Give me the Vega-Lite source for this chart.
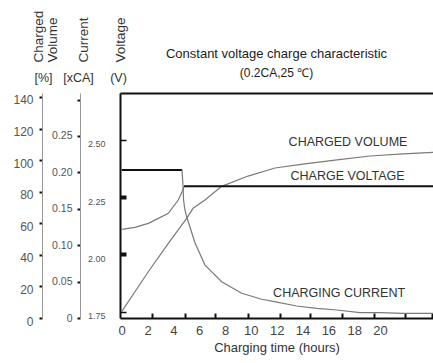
{
  "$schema": "https://vega.github.io/schema/vega-lite/v6.json",
  "width": 313,
  "height": 225,
  "autosize": {"type": "none"},
  "padding": {"left": 120, "top": 93, "right": 0, "bottom": 45},
  "background": "white",
  "config": {"view": {"stroke": null}, "font": "Liberation Sans", "axis": {"grid": false, "labelFlush": false, "titleFontWeight": "normal", "titleColor": "#333"}},
  "title": {"text": "Constant voltage charge characteristic", "subtitle": "(0.2CA,25 ℃)", "frame": "group", "anchor": "middle", "fontSize": 13, "fontWeight": "normal", "color": "#222", "subtitleFontSize": 12, "subtitleColor": "#222", "offset": 14, "subtitlePadding": 7, "dy": 83},
  "datasets": {
    "volume": [
      {"hours": 0.0, "percent": 4.0},
      {"hours": 2.06, "percent": 29.3},
      {"hours": 3.61, "percent": 47.3},
      {"hours": 5.03, "percent": 63.1},
      {"hours": 5.55, "percent": 69.7},
      {"hours": 6.45, "percent": 74.7},
      {"hours": 7.74, "percent": 83.4},
      {"hours": 9.78, "percent": 89.9},
      {"hours": 11.87, "percent": 95.0},
      {"hours": 14.04, "percent": 97.5},
      {"hours": 16.67, "percent": 100.1},
      {"hours": 19.23, "percent": 102.6},
      {"hours": 21.78, "percent": 103.9},
      {"hours": 24.1, "percent": 104.9}
    ],
    "current": [
      {"hours": 0.0, "ca": 0.2034, "part": "flat"},
      {"hours": 4.67, "ca": 0.2034, "part": "flat"},
      {"hours": 4.67, "ca": 0.2034, "part": "decay"},
      {"hours": 4.75, "ca": 0.181, "part": "decay"},
      {"hours": 4.79, "ca": 0.162, "part": "decay"},
      {"hours": 4.9, "ca": 0.148, "part": "decay"},
      {"hours": 5.03, "ca": 0.139, "part": "decay"},
      {"hours": 5.68, "ca": 0.103, "part": "decay"},
      {"hours": 6.45, "ca": 0.0727, "part": "decay"},
      {"hours": 7.74, "ca": 0.0498, "part": "decay"},
      {"hours": 9.29, "ca": 0.0339, "part": "decay"},
      {"hours": 10.84, "ca": 0.0257, "part": "decay"},
      {"hours": 11.82, "ca": 0.0224, "part": "decay"},
      {"hours": 13.55, "ca": 0.0165, "part": "decay"},
      {"hours": 15.1, "ca": 0.0133, "part": "decay"},
      {"hours": 16.65, "ca": 0.011, "part": "decay"},
      {"hours": 18.45, "ca": 0.0073, "part": "decay"},
      {"hours": 20.0, "ca": 0.0073, "part": "decay"},
      {"hours": 21.8, "ca": 0.0064, "part": "decay"},
      {"hours": 24.1, "ca": 0.0064, "part": "decay"}
    ],
    "voltage": [
      {"hours": 0.0, "volts": 2.1095, "part": "rise"},
      {"hours": 1.03, "volts": 2.118, "part": "rise"},
      {"hours": 2.06, "volts": 2.1355, "part": "rise"},
      {"hours": 2.84, "volts": 2.157, "part": "rise"},
      {"hours": 3.61, "volts": 2.179, "part": "rise"},
      {"hours": 4.38, "volts": 2.2373, "part": "rise"},
      {"hours": 4.67, "volts": 2.2722, "part": "rise"},
      {"hours": 4.83, "volts": 2.297, "part": "rise"},
      {"hours": 4.83, "volts": 2.297, "part": "flat"},
      {"hours": 24.1, "volts": 2.297, "part": "flat"}
    ],
    "labels": [
      {"hours": 17.52, "percent": 111.5, "label": "CHARGED VOLUME"},
      {"hours": 17.49, "percent": 89.9, "label": "CHARGE VOLTAGE"},
      {"hours": 16.83, "percent": 16.0, "label": "CHARGING CURRENT"}
    ]
  },
  "resolve": {"scale": {"y": "independent"}, "axis": {"x": "independent", "y": "independent"}},
  "layer": [
    {
      "data": {"name": "volume"},
      "mark": {"type": "line", "color": "#7a7a7a", "strokeWidth": 1.2, "clip": true},
      "encoding": {
        "x": {"field": "hours", "type": "quantitative", "scale": {"domain": [-0.13, 24.1], "nice": false, "zero": false},
          "axis": {"orient": "bottom", "values": [0, 2, 4, 6, 8, 10, 12, 14, 16, 18, 20], "domain": false, "ticks": false, "labelFontSize": 13, "labelColor": "#444", "labelPadding": 6, "title": "Charging time (hours)", "titleFontSize": 13, "titlePadding": 4}},
        "y": {"field": "percent", "type": "quantitative", "scale": {"domain": [0, 142.5], "nice": false},
          "axis": {"orient": "left", "offset": 78, "values": [0, 20, 40, 60, 80, 100, 120, 140], "domainColor": "#999", "domainWidth": 1, "tickColor": "#111", "tickSize": 3, "tickWidth": 2, "labelFontSize": 12, "labelColor": "#555", "labelPadding": 6, "labelOffset": 3, "title": ["Charged", "Volume"], "titleAngle": -90, "titleAlign": "left", "titleBaseline": "top", "titleX": -11, "titleY": -31, "titleFontSize": 13.5, "titleLineHeight": 14}}
      }
    },
    {
      "data": {"name": "current"},
      "encoding": {
        "x": {"field": "hours", "type": "quantitative", "scale": {"domain": [-0.13, 24.1], "nice": false, "zero": false},
          "axis": {"orient": "bottom", "values": [2.37, 4.9, 7.23, 9.76, 12.26, 14.58, 17.06, 19.54, 21.94, 24.03], "labels": false, "domain": true, "domainColor": "#111", "domainWidth": 2, "ticks": true, "tickSize": -5, "tickWidth": 2, "tickColor": "#111", "title": "[%]", "titleX": -77, "titleY": -241, "titleAlign": "center", "titleBaseline": "middle", "titleAngle": 0, "titleFontSize": 12.5}},
        "y": {"field": "ca", "type": "quantitative", "scale": {"domain": [0, 0.309], "nice": false},
          "axis": {"orient": "left", "offset": 40, "values": [0, 0.05, 0.1, 0.15, 0.2, 0.25, 0.3], "labelExpr": "datum.value == 0 ? '0' : (datum.value > 0.28 ? '' : format(datum.value, '.2f'))", "domainColor": "#999", "domainWidth": 1, "tickColor": "#111", "tickSize": 3, "tickWidth": 2, "labelFontSize": 10.5, "labelColor": "#555", "labelPadding": 5, "title": "Current", "titleAngle": -90, "titleAlign": "left", "titleBaseline": "top", "titleX": -4, "titleY": -31, "titleFontSize": 13.5}}
      },
      "layer": [
        {"transform": [{"filter": "datum.part == 'flat'"}], "mark": {"type": "line", "color": "#111", "strokeWidth": 2, "clip": true}},
        {"transform": [{"filter": "datum.part == 'decay'"}], "mark": {"type": "line", "color": "#7a7a7a", "strokeWidth": 1.2, "clip": true}}
      ]
    },
    {
      "data": {"name": "voltage"},
      "encoding": {
        "x": {"field": "hours", "type": "quantitative", "scale": {"domain": [-0.13, 24.1], "nice": false, "zero": false},
          "axis": {"orient": "top", "domain": true, "domainColor": "#111", "domainWidth": 2, "ticks": false, "labels": false, "title": "[xCA]", "titleX": -42, "titleY": -16, "titleAlign": "center", "titleBaseline": "middle", "titleAngle": 0, "titleFontSize": 12.5}},
        "y": {"field": "volts", "type": "quantitative", "scale": {"domain": [1.7225, 2.704], "nice": false, "zero": false},
          "axis": {"orient": "left", "offset": 0, "values": [1.75, 2.0, 2.25, 2.5], "format": ".2f", "domainColor": "#111", "domainWidth": 2, "tickColor": "#111", "tickSize": -6, "tickWidth": {"condition": {"test": "datum.value == 2 || datum.value == 2.25", "value": 4}, "value": 1.5}, "labelFontSize": 9, "labelColor": "#555", "labelPadding": 21, "labelOffset": 4, "title": "Voltage", "titleAngle": -90, "titleAlign": "left", "titleBaseline": "top", "titleX": -7, "titleY": -31, "titleFontSize": 13.5}}
      },
      "layer": [
        {"transform": [{"filter": "datum.part == 'rise'"}], "mark": {"type": "line", "color": "#7a7a7a", "strokeWidth": 1.2, "clip": true}},
        {"transform": [{"filter": "datum.part == 'flat'"}], "mark": {"type": "line", "color": "#111", "strokeWidth": 2, "clip": true}}
      ]
    },
    {
      "data": {"name": "labels"},
      "mark": {"type": "text", "fontSize": 12.5, "color": "#333", "align": "center", "baseline": "middle"},
      "encoding": {
        "x": {"field": "hours", "type": "quantitative", "scale": {"domain": [-0.13, 24.1], "nice": false, "zero": false}, "axis": null},
        "y": {"field": "percent", "type": "quantitative", "scale": {"domain": [0, 142.5], "nice": false},
          "axis": {"orient": "left", "domain": false, "ticks": false, "labels": false, "title": "(V)", "titleX": -2, "titleY": -16, "titleAlign": "center", "titleBaseline": "middle", "titleAngle": 0, "titleFontSize": 12.5}},
        "text": {"field": "label", "type": "nominal"}
      }
    }
  ]
}
